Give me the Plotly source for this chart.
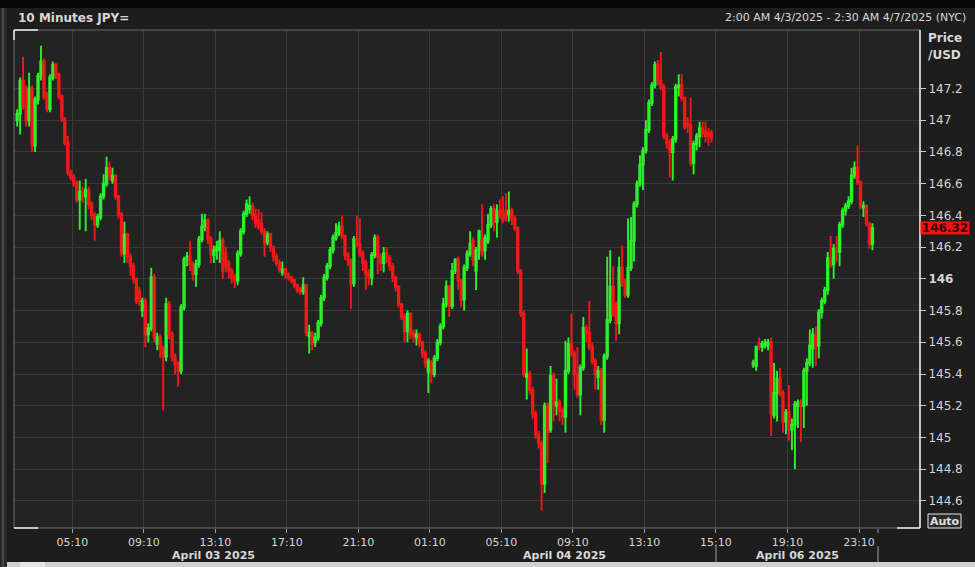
import plotly.graph_objects as go

# ---------------- data (10-minute USD/JPY candles) ----------------
# Session 1: April 03 - April 04 2025 (bar index 0..233)
a_open = [147.00,147.04,147.25,147.09,147.00,147.20,146.84,147.13,147.28,147.37,
          147.15,147.07,147.27,147.35,147.29,147.15,147.01,146.86,146.67,146.64,
          146.60,146.50,146.55,146.52,146.56,146.47,146.40,146.34,146.39,146.52,
          146.60,146.70,146.62,146.65,146.52,146.41,146.16,146.28,146.14,146.08,
          146.00,145.92,145.80,145.86,145.65,145.69,146.01,145.59,145.63,145.56,
          145.51,145.84,145.65,145.51,145.46,145.42,145.82,146.12,146.14,146.09,
          146.03,146.09,146.25,146.33,146.37,146.25,146.15,146.18,146.18,146.24,
          146.16,146.10,146.05,146.01,145.99,146.16,146.30,146.41,146.44,146.46,
          146.40,146.37,146.35,146.30,146.23,146.28,146.20,146.14,146.10,146.04,
          146.06,146.03,146.01,145.99,145.96,145.94,145.92,145.96,145.64,145.66,
          145.60,145.63,145.72,145.88,146.01,146.08,146.18,146.26,146.29,146.33,
          146.27,146.15,146.12,145.97,146.25,146.22,146.16,146.10,146.04,146.01,
          146.15,146.26,146.14,146.10,146.16,146.13,146.08,146.01,145.95,145.84,
          145.76,145.67,145.78,145.66,145.63,145.65,145.60,145.53,145.41,145.47,
          145.40,145.50,145.60,145.70,145.84,145.95,145.83,146.05,146.12,145.99,
          145.87,146.07,146.16,146.24,146.05,146.18,146.24,146.18,146.24,146.34,
          146.44,146.36,146.43,146.43,146.41,146.41,146.43,146.38,146.32,146.05,
          145.78,145.38,145.40,145.30,145.15,145.02,144.96,144.71,145.20,145.05,
          145.39,145.20,145.22,145.17,145.13,145.42,145.59,145.53,145.40,145.27,
          145.44,145.69,145.66,145.57,145.48,145.38,145.42,145.11,145.51,145.74,
          145.95,145.84,145.72,146.07,145.98,145.90,146.07,146.24,146.47,146.60,
          146.72,146.81,146.94,147.11,147.22,147.35,147.25,147.21,146.90,146.86,
          146.80,146.88,147.21,147.22,147.14,146.98,146.97,146.73,146.85,146.90,
          146.95,146.93,146.92,146.92]
a_high = [147.07,147.27,147.40,147.22,147.30,147.22,147.15,147.30,147.47,147.39,
          147.18,147.29,147.37,147.36,147.30,147.16,147.02,146.90,146.69,146.66,
          146.62,146.62,146.58,146.63,146.58,146.49,146.42,146.41,146.54,146.66,
          146.77,146.74,146.70,146.66,146.53,146.42,146.36,146.29,146.16,146.10,
          146.01,145.95,145.88,145.88,145.72,146.07,146.03,145.66,145.65,145.58,
          145.88,145.86,145.67,145.53,145.48,145.84,146.14,146.17,146.24,146.11,
          146.12,146.27,146.41,146.41,146.38,146.27,146.21,146.24,146.30,146.26,
          146.20,146.12,146.07,146.03,146.18,146.32,146.43,146.50,146.52,146.48,
          146.44,146.44,146.42,146.32,146.30,146.29,146.21,146.16,146.12,146.11,
          146.07,146.04,146.02,146.00,145.97,145.95,146.01,145.97,145.71,145.67,
          145.66,145.74,145.90,146.03,146.10,146.20,146.28,146.35,146.36,146.40,
          146.28,146.17,146.13,146.27,146.40,146.38,146.18,146.12,146.06,146.17,
          146.28,146.28,146.16,146.20,146.20,146.15,146.10,146.02,145.96,145.85,
          145.78,145.80,145.79,145.68,145.68,145.66,145.61,145.55,145.50,145.49,
          145.52,145.62,145.72,145.88,145.99,145.96,146.10,146.13,146.14,146.00,
          146.09,146.18,146.30,146.26,146.20,146.31,146.47,146.28,146.41,146.46,
          146.47,146.47,146.50,146.52,146.54,146.55,146.45,146.40,146.33,146.06,
          145.80,145.56,145.42,145.32,145.17,145.04,144.98,145.22,145.22,145.45,
          145.41,145.37,145.24,145.19,145.61,145.63,145.78,145.55,145.57,145.46,
          145.76,145.71,145.86,145.60,145.50,145.45,145.44,145.53,146.14,146.18,
          146.08,145.86,146.14,146.21,146.00,146.38,146.39,146.49,146.62,146.78,
          146.83,147.00,147.13,147.24,147.37,147.38,147.43,147.23,146.92,146.88,
          146.90,147.23,147.29,147.29,147.15,147.02,147.14,146.87,146.92,146.99,
          146.99,146.99,146.95,146.94]
a_low = [146.96,146.91,147.07,146.96,146.96,146.80,146.80,147.10,147.25,147.13,
         147.05,147.05,147.25,147.26,147.13,146.99,146.84,146.65,146.62,146.58,
         146.48,146.31,146.48,146.30,146.44,146.37,146.24,146.32,146.37,146.50,
         146.58,146.62,146.60,146.50,146.38,146.14,146.10,146.10,146.02,145.97,
         145.84,145.83,145.76,145.57,145.60,145.67,145.60,145.55,145.50,145.17,
         145.48,145.62,145.48,145.40,145.32,145.40,145.80,146.08,146.05,145.99,
         145.95,146.07,146.23,146.30,146.22,146.10,146.10,146.12,146.10,146.00,
         146.04,146.00,145.97,145.94,145.96,146.14,146.28,146.39,146.41,146.37,
         146.32,146.31,146.28,146.14,146.21,146.17,146.11,146.08,146.04,146.02,
         146.00,145.99,145.97,145.94,145.91,145.90,145.90,145.64,145.53,145.55,
         145.57,145.61,145.70,145.86,145.99,146.06,146.16,146.24,146.27,146.25,
         146.12,146.08,145.81,145.95,146.20,146.14,146.05,145.93,145.96,145.96,
         146.13,146.03,146.05,146.04,146.10,146.05,145.98,145.92,145.82,145.74,
         145.60,145.60,145.62,145.60,145.58,145.57,145.50,145.44,145.28,145.34,
         145.38,145.48,145.58,145.68,145.82,145.76,145.81,146.03,145.93,145.82,
         145.80,146.05,146.14,146.08,145.93,146.12,146.14,146.12,146.22,146.32,
         146.30,146.26,146.38,146.35,146.36,146.36,146.34,146.30,146.03,145.76,
         145.38,145.24,145.27,145.12,144.99,144.93,144.54,144.65,144.84,145.03,
         145.10,145.14,145.10,145.08,145.03,145.40,145.51,145.30,145.25,145.14,
         145.42,145.60,145.55,145.46,145.30,145.30,145.08,145.03,145.49,145.72,
         145.76,145.61,145.65,145.95,145.88,145.88,146.05,146.11,146.45,146.58,
         146.56,146.79,146.92,147.09,147.20,147.22,147.19,146.88,146.82,146.64,
         146.62,146.86,147.15,147.12,146.94,146.92,146.71,146.66,146.81,146.83,
         146.89,146.86,146.84,146.86]
a_close = [147.04,147.25,147.09,147.00,147.20,146.84,147.13,147.28,147.37,147.15,
           147.07,147.27,147.35,147.29,147.15,147.01,146.86,146.67,146.64,146.60,
           146.50,146.55,146.52,146.56,146.47,146.40,146.34,146.39,146.52,146.60,
           146.70,146.65,146.65,146.52,146.41,146.16,146.28,146.14,146.08,146.00,
           145.86,145.86,145.86,145.65,145.69,146.01,145.63,145.63,145.56,145.51,
           145.84,145.65,145.51,145.46,145.42,145.82,146.12,146.14,146.09,146.03,
           146.09,146.25,146.33,146.37,146.25,146.16,146.18,146.20,146.24,146.05,
           146.08,146.05,146.01,145.99,146.16,146.30,146.41,146.47,146.46,146.40,
           146.35,146.33,146.30,146.23,146.28,146.20,146.14,146.10,146.06,146.06,
           146.03,146.01,145.99,145.96,145.93,145.92,145.96,145.66,145.66,145.59,
           145.63,145.72,145.88,146.01,146.08,146.18,146.26,146.29,146.33,146.27,
           146.15,146.12,145.97,146.25,146.22,146.16,146.10,146.03,146.01,146.15,
           146.26,146.14,146.10,146.16,146.13,146.08,146.01,145.95,145.84,145.76,
           145.67,145.78,145.65,145.64,145.65,145.60,145.53,145.47,145.48,145.40,
           145.50,145.60,145.70,145.84,145.95,145.83,146.05,146.12,145.99,145.87,
           146.07,146.16,146.22,146.12,146.18,146.30,146.16,146.26,146.34,146.44,
           146.36,146.43,146.40,146.37,146.38,146.43,146.38,146.32,146.05,145.78,
           145.40,145.40,145.30,145.15,145.02,144.96,144.71,145.20,145.03,145.39,
           145.21,145.22,145.17,145.13,145.42,145.59,145.53,145.40,145.27,145.44,
           145.69,145.66,145.57,145.48,145.40,145.42,145.11,145.51,145.74,145.95,
           145.78,145.72,146.07,145.98,145.90,146.07,146.24,146.47,146.60,146.72,
           146.81,146.94,147.11,147.22,147.35,147.25,147.21,146.90,146.86,146.80,
           146.88,147.21,147.22,147.14,146.96,146.97,146.73,146.85,146.90,146.95,
           146.92,146.90,146.90,146.89]

# Session 2: April 06 2025 evening (bar index 247..287)
b_open = [145.46,145.45,145.59,145.57,145.58,145.58,145.60,145.14,145.28,145.37,
          145.28,145.10,145.16,145.05,145.08,145.20,145.22,145.20,145.42,145.47,
          145.56,145.64,145.58,145.79,145.86,145.93,146.13,146.09,146.19,146.17,
          146.34,146.43,146.46,146.49,146.65,146.70,146.61,146.45,146.46,146.35,
          146.22]
b_high = [145.49,145.58,145.63,145.61,145.62,145.62,145.63,145.47,145.42,145.44,
          145.30,145.18,145.33,145.12,145.23,145.24,145.24,145.44,145.50,145.68,
          145.69,145.70,145.81,145.88,145.95,146.17,146.27,146.22,146.27,146.36,
          146.45,146.48,146.52,146.70,146.74,146.84,146.62,146.49,146.47,146.36,
          146.35]
b_low = [145.44,145.42,145.55,145.54,145.56,145.55,145.01,145.12,145.10,145.26,
         145.03,145.02,144.98,144.92,144.80,145.06,144.97,145.06,145.20,145.45,
         145.44,145.45,145.50,145.75,145.84,145.90,146.07,146.00,146.11,146.08,
         146.32,146.40,146.44,146.47,146.63,146.59,146.44,146.39,146.33,146.19,
         146.18]
b_close = [145.47,145.57,145.58,145.59,145.60,145.60,145.15,145.28,145.37,145.28,
           145.10,145.16,145.05,145.08,145.21,145.22,145.20,145.42,145.47,145.58,
           145.65,145.58,145.79,145.86,145.93,146.13,146.09,146.19,146.17,146.34,
           146.43,146.46,146.49,146.65,146.70,146.61,146.46,146.46,146.35,146.22,
           146.32]

a_start, b_start = 0, 247
last_price = 146.32

time_labels = ["05:10", "09:10", "13:10", "17:10", "21:10", "01:10",
               "05:10", "09:10", "13:10", "15:10", "19:10", "23:10"]
date_labels = ["April 03 2025", "April 04 2025", "April 06 2025"]
price_ticks = [144.6, 144.8, 145.0, 145.2, 145.4, 145.6, 145.8,
               146.0, 146.2, 146.4, 146.6, 146.8, 147.0, 147.2]

title_left = "10 Minutes JPY="
title_right = "2:00 AM 4/3/2025 - 2:30 AM 4/7/2025 (NYC)"

# ---------------- figure ----------------
W, H = 975, 567
L, R, T, B = 14, 55, 30, 39
PW, PH = W - L - R, H - T - B

def px(x):  # pixel x -> paper
    return (x - L) / PW

def py(y):  # pixel y -> paper
    return (H - B - y) / PH

x_idx = list(range(a_start, a_start + len(a_open))) + list(range(b_start, b_start + len(b_open)))

GREEN = "#2df02d"
RED = "#f01818"

fig = go.Figure(go.Candlestick(
    x=x_idx,
    open=a_open + b_open, high=a_high + b_high,
    low=a_low + b_low, close=a_close + b_close,
    increasing=dict(line=dict(color=GREEN, width=1.9), fillcolor=GREEN),
    decreasing=dict(line=dict(color=RED, width=1.9), fillcolor=RED),
    whiskerwidth=0, showlegend=False, hoverinfo="skip",
))

tick_pos = [18.5 + 24 * k for k in range(len(time_labels))]

FONT = "DejaVu Sans"
TXT = "#d4d4d4"

fig.update_layout(
    width=W, height=H, autosize=False,
    margin=dict(l=L, r=R, t=T, b=B),
    paper_bgcolor="#1d1d1d", plot_bgcolor="#232323",
    font=dict(family=FONT, size=11, color=TXT),
    showlegend=False,
    xaxis=dict(
        range=[-1.06, 302.97], rangeslider=dict(visible=False),
        tickmode="array", tickvals=tick_pos, ticktext=time_labels,
        showgrid=True, gridcolor="#3a3a3a", gridwidth=1,
        ticks="outside", ticklen=4, tickcolor="#9a9a9a",
        tickfont=dict(family=FONT, size=11, color=TXT),
        zeroline=False, showline=False, fixedrange=True,
    ),
    yaxis=dict(
        side="right", range=[144.429, 147.569],
        tickmode="array", tickvals=price_ticks,
        ticktext=[("<b>%g</b>" % v) if abs(v - 146.0) < 1e-9 else ("%g" % v) for v in price_ticks],
        showgrid=True, gridcolor="#3a3a3a", gridwidth=1,
        ticks="outside", ticklen=5, tickcolor="#d0d0d0",
        tickfont=dict(family=FONT, size=12, color=TXT),
        zeroline=False, showline=False, fixedrange=True,
    ),
)

shapes = []
# plot frame
shapes.append(dict(type="rect", xref="paper", yref="paper", x0=0, x1=1, y0=0, y1=1,
                   line=dict(color="#6e6e6e", width=1), fillcolor="rgba(0,0,0,0)", layer="above"))
# white right axis line + corner accents
shapes.append(dict(type="line", xref="paper", yref="paper", x0=1, x1=1, y0=0, y1=1,
                   line=dict(color="#f0f0f0", width=1.5), layer="above"))
for (xa, xb, yy) in [(14, 38, 30), (14, 38, 528), (897, 920, 528)]:
    shapes.append(dict(type="line", xref="paper", yref="paper", x0=px(xa), x1=px(xb),
                       y0=py(yy), y1=py(yy), line=dict(color="#f0f0f0", width=1.5), layer="above"))
shapes.append(dict(type="line", xref="paper", yref="paper", x0=0, x1=0, y0=py(30), y1=py(40),
                   line=dict(color="#f0f0f0", width=1.5), layer="above"))
# date separators below the axis
for xs in [716, 878]:
    shapes.append(dict(type="line", xref="paper", yref="paper", x0=px(xs), x1=px(xs),
                       y0=py(546), y1=py(562), line=dict(color="#a0a0a0", width=1)))
shapes.append(dict(type="line", xref="paper", yref="paper", x0=px(878), x1=px(878),
                   y0=py(529), y1=py(533), line=dict(color="#9a9a9a", width=1)))
# top toolbar strip, left frame, bottom scrollbar
shapes.append(dict(type="rect", xref="paper", yref="paper", x0=px(0), x1=px(W), y0=py(0), y1=py(8),
                   fillcolor="#060606", line=dict(width=0)))
shapes.append(dict(type="rect", xref="paper", yref="paper", x0=px(0), x1=px(7), y0=py(8), y1=py(H),
                   fillcolor="#2a2a2a", line=dict(width=0)))
shapes.append(dict(type="line", xref="paper", yref="paper", x0=px(3), x1=px(3), y0=py(8), y1=py(H),
                   line=dict(color="#6a6a6a", width=1)))
shapes.append(dict(type="rect", xref="paper", yref="paper", x0=px(7), x1=px(W), y0=py(562), y1=py(H),
                   fillcolor="#d0d0d0", line=dict(width=0)))
shapes.append(dict(type="rect", xref="paper", yref="paper", x0=px(20), x1=px(45), y0=py(562), y1=py(H),
                   fillcolor="#e6e6e6", line=dict(width=0)))
# Auto button
shapes.append(dict(type="rect", xref="paper", yref="paper", x0=px(928), x1=px(961), y0=py(514), y1=py(528),
                   fillcolor="#2b2b2b", line=dict(color="#e8e8e8", width=1)))
fig.update_layout(shapes=shapes)

ann = []
ann.append(dict(xref="paper", yref="paper", x=px(16), y=py(18), xanchor="left", yanchor="middle",
                text="<b>" + title_left + "</b>", showarrow=False,
                font=dict(family=FONT, size=12, color="#d8d8d8")))
ann.append(dict(xref="paper", yref="paper", x=px(968), y=py(18), xanchor="right", yanchor="middle",
                text=title_right, showarrow=False,
                font=dict(family=FONT, size=11, color="#d8d8d8")))
ann.append(dict(xref="paper", yref="paper", x=px(926), y=py(38), xanchor="left", yanchor="middle",
                text="<b>Price</b>", showarrow=False, font=dict(family=FONT, size=12, color="#d8d8d8")))
ann.append(dict(xref="paper", yref="paper", x=px(926), y=py(55), xanchor="left", yanchor="middle",
                text="<b>/USD</b>", showarrow=False, font=dict(family=FONT, size=12, color="#d8d8d8")))
for lbl, cx in zip(date_labels, [213, 564.5, 797.5]):
    ann.append(dict(xref="paper", yref="paper", x=px(cx), y=py(555), xanchor="center", yanchor="middle",
                    text="<b>" + lbl + "</b>", showarrow=False,
                    font=dict(family=FONT, size=11, color="#d8d8d8")))
ann.append(dict(xref="paper", yref="y", x=1, y=last_price, xanchor="left", yanchor="middle",
                text="<b>%.2f</b>" % last_price, showarrow=False, bgcolor="#f21010",
                width=48, height=12, borderpad=0,
                font=dict(family=FONT, size=12, color="#3a0000")))
ann.append(dict(xref="paper", yref="paper", x=px(944.5), y=py(521), xanchor="center", yanchor="middle",
                text="<b>Auto</b>", showarrow=False, font=dict(family=FONT, size=11, color="#e0e0e0")))
fig.update_layout(annotations=ann)

fig.write_html("out.html",
               config={"displayModeBar": False, "staticPlot": True},
               post_script="document.body.style.margin='0';document.body.style.padding='0';"
                           "document.body.style.overflow='hidden';")
